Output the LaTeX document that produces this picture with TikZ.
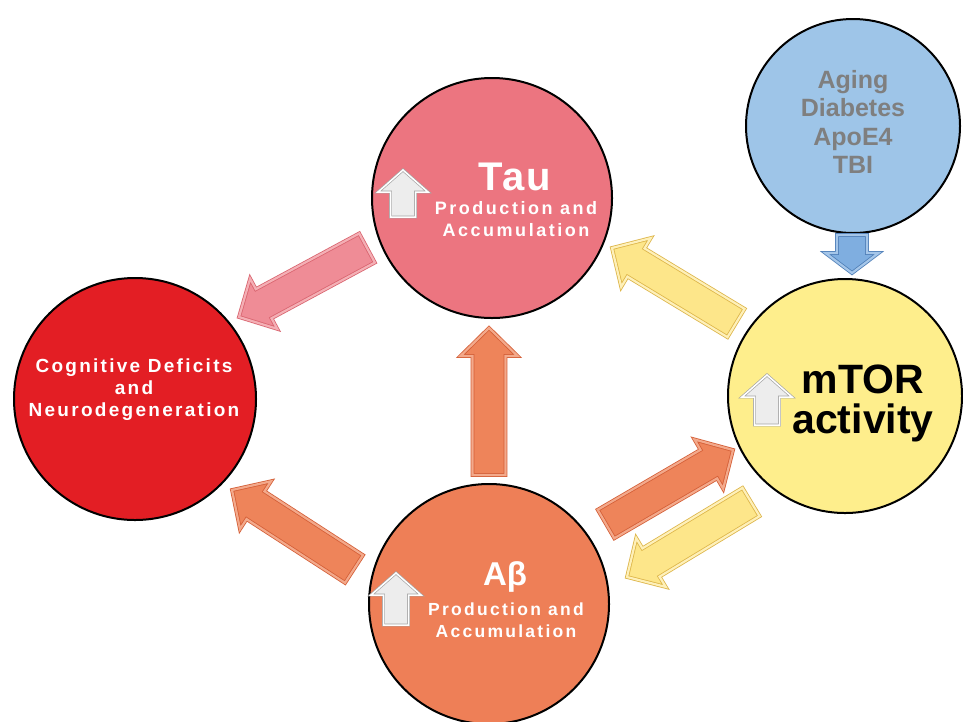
\documentclass[tikz,border=0pt]{standalone}
\usepackage{fontspec}
\setmainfont{Liberation Sans}
\usetikzlibrary{calc}

\definecolor{taupink}{HTML}{EC7580}
\definecolor{cogred}{HTML}{E31E24}
\definecolor{aborange}{HTML}{EE7F57}
\definecolor{mtoryellow}{HTML}{FEEE8C}
\definecolor{riskblue}{HTML}{9EC5E8}
\definecolor{pinkarr}{HTML}{EF8C96}
\definecolor{pinkedge}{HTML}{D9646F}
\definecolor{yelarr}{HTML}{FDE68A}
\definecolor{yeledge}{HTML}{DDB548}
\definecolor{orarr}{HTML}{EE845A}
\definecolor{oredge}{HTML}{D45E36}
\definecolor{bluearr}{HTML}{7FAEE0}
\definecolor{blueedge}{HTML}{4F7FB8}
\definecolor{upgrey}{HTML}{EDEDED}
\definecolor{riskgrey}{HTML}{7F7F7F}

% sizes of the block arrows: half shaft, half head, head length
\newcommand\arrsw{16.5pt}
\newcommand\arrhw{28.5pt}
\newcommand\arrhl{28pt}

\begin{document}
\begin{tikzpicture}[x=1pt, y=-1pt,
	ball/.style={circle, draw=black, line width=2pt, inner sep=0pt},
	blksize/.code n args={3}{\def\arrsw{#1}\def\arrhw{#2}\def\arrhl{#3}},
	blk/.style={line width=0.8pt, line join=miter, double distance=2.2pt, to path={
		($(\tikztotarget)!\arrhl!(\tikztostart)$) coordinate (hb)
		($(\tikztostart)!\arrsw!90:(\tikztotarget)$) -- ($(hb)!\arrsw!90:(\tikztotarget)$)
		-- ($(hb)!\arrhw!90:(\tikztotarget)$) -- (\tikztotarget)
		-- ($(hb)!\arrhw!-90:(\tikztotarget)$) -- ($(hb)!\arrsw!-90:(\tikztotarget)$)
		-- ($(\tikztostart)!\arrsw!-90:(\tikztotarget)$) -- cycle}},
	pinkblk/.style={blk, fill=pinkarr, draw=pinkedge, double=pinkarr!70!white},
	yelblk/.style={blk, fill=yelarr, draw=yeledge, double=yelarr!60!white},
	orblk/.style={blk, fill=orarr, draw=oredge, double=orarr!70!white},
	upblk/.style={blk, blksize={12.5pt}{25pt}{22pt}, fill=upgrey, draw=gray!70, double=white, double distance=1.5pt, line width=0.7pt},
	bigtxt/.style={inner sep=0pt, align=center}]

	\useasboundingbox[fill=white] (0,0) rectangle (963,721);

	% circles
	\node[ball, fill=taupink, minimum size=240pt] (tau) at (492,198) {};
	\node[ball, fill=cogred, minimum size=242pt] (cog) at (135,399) {};
	\node[ball, fill=aborange, minimum size=240pt] (ab) at (489,604) {};
	\node[ball, fill=mtoryellow, minimum size=234pt] (mtor) at (845,396) {};
	\node[ball, fill=riskblue, minimum size=214pt] (risk) at (853,126) {};

	% texts
	\node[bigtxt, text=white, font=\fontsize{40}{40}\selectfont\bfseries\addfontfeatures{LetterSpace=5}] (tautitle) at (515,177) {Tau};
	\node[bigtxt, text=white, font=\fontsize{18}{22}\selectfont\bfseries\addfontfeatures{LetterSpace=14}] (tausub) at (516,219) {Production and\\Accumulation};
	\node[bigtxt, text=white, font=\fontsize{33}{33}\selectfont\bfseries] (abtitle) at (505,577) {Aβ};
	\node[bigtxt, text=white, font=\fontsize{17.5}{22}\selectfont\bfseries\addfontfeatures{LetterSpace=13}] (absub) at (506,620) {Production and\\Accumulation};
	\node[bigtxt, text=white, font=\fontsize{19}{22}\selectfont\bfseries\addfontfeatures{LetterSpace=12}] (cogtxt) at (134,390) {Cognitive Deficits\\and\\Neurodegeneration};
	\node[bigtxt, font=\fontsize{41}{40}\selectfont\bfseries] (mtortxt) at (863,403) {mTOR\\activity};
	\node[bigtxt, text=riskgrey, font=\fontsize{25}{28.5}\selectfont\bfseries] (risktxt) at (853,122) {Aging\\Diabetes\\ApoE4\\TBI};

	% arrow ends
	\coordinate (tcA) at (367,248); \coordinate (tcB) at (239,317);
	\coordinate (mtA) at (736,323); \coordinate (mtB) at (612,248);
	\coordinate (amA) at (606,524); \coordinate (amB) at (733,450);
	\coordinate (maA) at (751,502); \coordinate (maB) at (627,577);
	\coordinate (atA) at (489,475); \coordinate (atB) at (489,328);
	\coordinate (acA) at (354,569); \coordinate (acB) at (232,490);
	\coordinate (rmA) at (852,235); \coordinate (rmB) at (852,273);

	% block arrows between the circles
	\draw[pinkblk] (tcA) to (tcB);
	\draw[yelblk] (mtA) to (mtB);
	\draw[orblk] (amA) to (amB);
	\draw[yelblk] (maA) to (maB);
	\draw[orblk] (atA) to (atB);
	\draw[orblk] (acA) to (acB);
	\draw[blk, blksize={15pt}{26.5pt}{20pt}, fill=bluearr, draw=blueedge, double=bluearr!70!white] (rmA) to (rmB);

	% small up arrows
	\coordinate (tuA) at (403,217); \coordinate (tuB) at (403,170);
	\coordinate (muA) at (767,425); \coordinate (muB) at (767,375);
	\coordinate (auA) at (396,625); \coordinate (auB) at (396,573);
	\draw[upblk] (tuA) to (tuB);
	\draw[upblk] (muA) to (muB);
	\draw[upblk] (auA) to (auB);

\end{tikzpicture}
\end{document}
